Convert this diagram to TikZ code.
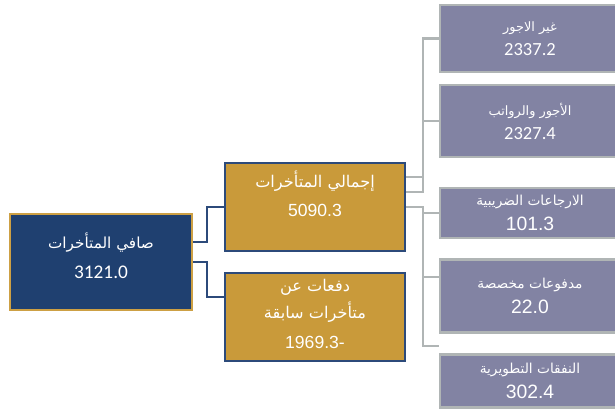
\documentclass[tikz,border=0pt]{standalone}
\usepackage{fontspec}
\setmainfont{Liberation Sans}
\newfontfamily\arabicfont[Script=Arabic]{DejaVu Sans}
\newfontfamily\calibrifont{Carlito}
\usepackage{tikz}
\usetikzlibrary{positioning,calc}
\TeXXeTstate=1
\definecolor{NavyFill}{RGB}{31,64,112}
\definecolor{NavyLine}{RGB}{44,74,122}
\definecolor{GoldFill}{RGB}{201,154,58}
\definecolor{GoldLine}{RGB}{205,160,68}
\definecolor{GrayFill}{RGB}{130,131,163}
\definecolor{GrayLine}{RGB}{176,181,181}
% arabic line, optional size in pt
\newcommand{\artxt}[2][13.8]{{\fontsize{#1}{#1}\selectfont\arabicfont\beginR #2\endR}}
\tikzset{
    box/.style={rectangle, align=center, text=white, inner sep=0pt, line width=2.2pt},
    rootbox/.style={box, fill=NavyFill, draw=GoldLine, minimum width=5.46cm, minimum height=2.88cm, text depth=0.4cm, font=\calibrifont\fontsize{16.5}{25.5}\selectfont},
    goldbox/.style={box, fill=GoldFill, draw=NavyLine, minimum width=5.4cm, minimum height=2.64cm, font=\fontsize{15}{25.5}\selectfont},
    graybox/.style={box, fill=GrayFill, draw=GrayLine, minimum width=5.4cm, font=\fontsize{16.5}{21.5}\selectfont}
}

\begin{document}
\begin{tikzpicture}[
        x=0.03cm, y=-0.03cm,
        % connectors
        navyline/.style={draw=NavyLine, line width=1.8pt},
        grayline/.style={draw=GrayLine, line width=1.8pt},
        % the two upper boxes use calibri digits
        upper/.style={graybox, font=\calibrifont\fontsize{15.8}{20.5}\selectfont}
    ]
        \useasboundingbox (0,0) rectangle (615,412);

        % --- ROOT ---
        \node[rootbox] (root) at (101,262)
            {\artxt[13]{صافي المتأخرات}\\ 3121.0};

        % --- LEVEL 1 ---
        \node[goldbox, text depth=0.8cm] (gold1) at (315,207)
            {\artxt{إجمالي المتأخرات}\\ 5090.3};
        \node[goldbox, text depth=0.2cm] (gold2) at (315,317)
            {\artxt{دفعات عن}\\[-2pt] \artxt{متأخرات سابقة}\\ 1969.3-};

        % --- LEVEL 2 ---
        \node[upper, minimum height=2.01cm] (gray1) at (530,38.5)
            {\artxt[11]{غير الاجور}\\ 2337.2};
        \node[upper, minimum height=2.16cm] (gray2) at (530,121)
            {\artxt[11]{الأجور والرواتب}\\ 2327.4};
        \node[graybox, minimum height=1.5cm] (gray3) at (530,213)
            {\artxt[11.7]{الارجاعات الضريبية}\\ 101.3};
        \node[graybox, minimum height=2.19cm] (gray4) at (530,296)
            {\artxt[11.7]{مدفوعات مخصصة}\\ 22.0};
        \node[graybox, minimum height=1.59cm] (gray5) at (530,381)
            {\artxt[11.7]{النفقات التطويرية}\\ 302.4};

        % --- CONNECTORS ---
        \draw[navyline] ([yshift=0.6cm]root.east) -- ++(14,0) |- (gold1.west);
        \draw[navyline] (root.east) -- ++(14,0) |- ([yshift=0.6cm]gold2.west);

        \draw[grayline] ([yshift=0.9cm]gold1.east) -- ++(17,0) |- (gray1.west);
        \draw[grayline] ([yshift=0.45cm]gold1.east) -- ++(17,0) |- (gray2.west);
        \foreach \tgt/\dy in {gray3/0cm, gray4/0.57cm, gray5/1.05cm} {
            \draw[grayline] (gold1.east) -- ++(17,0) |- ([yshift=\dy]\tgt.west);
        }
    \end{tikzpicture}
\end{document}
